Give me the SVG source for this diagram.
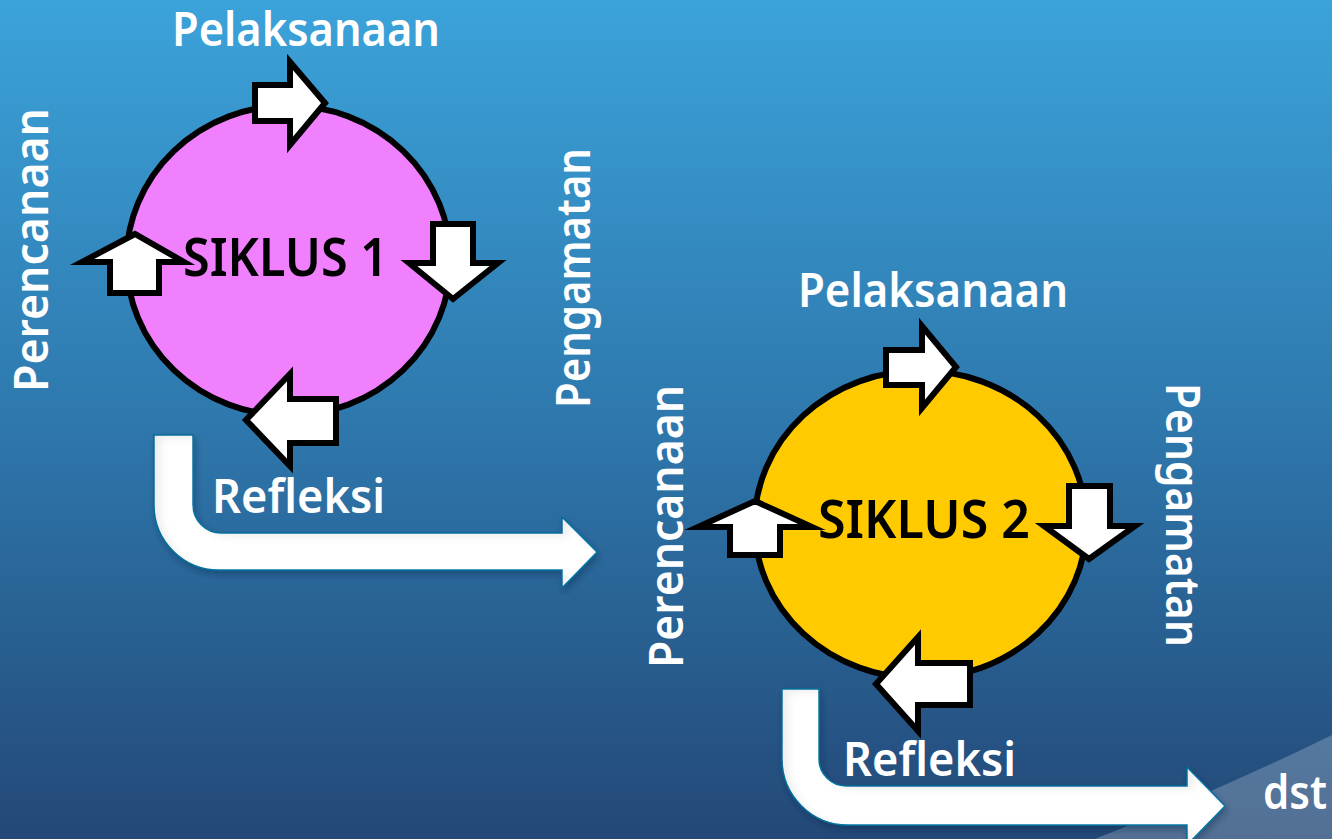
<svg xmlns="http://www.w3.org/2000/svg" width="1332" height="839" viewBox="0 0 1332 839">
  <defs>
    <linearGradient id="bg" x1="0" y1="0" x2="0" y2="1">
      <stop offset="0" stop-color="#3ba3da"/>
      <stop offset="0.5" stop-color="#2e78ad"/>
      <stop offset="1" stop-color="#234877"/>
    </linearGradient>
    <!-- soft inner shading plus drop shadow for the big bent arrows -->
    <filter id="bend" x="-10%" y="-10%" width="120%" height="130%">
      <feGaussianBlur in="SourceAlpha" stdDeviation="4" result="b"/>
      <feOffset in="b" dx="7" dy="4" result="o"/>
      <feComposite in="SourceAlpha" in2="o" operator="out" result="edge"/>
      <feFlood flood-color="#000" flood-opacity="0.16"/>
      <feComposite in2="edge" operator="in" result="shade"/>
      <feGaussianBlur in="SourceAlpha" stdDeviation="3" result="sb"/>
      <feOffset in="sb" dx="2" dy="4" result="so"/>
      <feFlood flood-color="#0a2440" flood-opacity="0.35"/>
      <feComposite in2="so" operator="in" result="drop"/>
      <feMerge>
        <feMergeNode in="drop"/>
        <feMergeNode in="SourceGraphic"/>
        <feMergeNode in="shade"/>
      </feMerge>
    </filter>
    <style>
      .label { font-family: "Noto Sans", "Open Sans", "DejaVu Sans", sans-serif; font-weight: 600; font-size: 46px; fill: #ffffff; }
      .title { font-family: "Noto Sans", "Open Sans", "DejaVu Sans", sans-serif; font-weight: 600; font-size: 52px; fill: #000000; }
      .ring { stroke: #000; stroke-width: 6; }
      .step { fill: #ffffff; stroke: #000; stroke-width: 6; stroke-linejoin: miter; stroke-miterlimit: 10; }
      .bent { fill: #ffffff; stroke: #0e78a6; stroke-width: 1.5; }
    </style>
  </defs>

  <!-- backdrop -->
  <rect x="0" y="0" width="1332" height="839" fill="url(#bg)"/>
  <path d="M1095,839 Q1220,790 1332,735 L1332,839 Z" fill="#ffffff" fill-opacity="0.22"/>

  <!-- cycle 1 -->
  <g id="siklus1">
    <ellipse class="ring" cx="288.5" cy="260.5" rx="162" ry="155" fill="#f080fd"/>
    <text class="title" x="183" y="276" textLength="205" lengthAdjust="spacingAndGlyphs">SIKLUS 1</text>
  </g>
  <g id="siklus1-steps">
    <polygon class="step" points="255,85 290,85 290,62 325,103 290,145 290,121 255,121"/>
    <polygon class="step" points="433,224 473,224 473,263 498,263 453,299 409,263 433,263"/>
    <polygon class="step" points="336,399 336,443 290,443 290,466 246,420 290,374 290,399"/>
    <polygon class="step" points="110,293 110,262 82,262 135,234 184,262 159,262 159,293"/>
  </g>
  <g id="siklus1-labels">
    <text class="label" x="172" y="46" textLength="268" lengthAdjust="spacingAndGlyphs">Pelaksanaan</text>
    <text class="label" transform="translate(48,392) rotate(-90)" x="0" y="0" textLength="284" lengthAdjust="spacingAndGlyphs">Perencanaan</text>
    <text class="label" transform="translate(590,408) rotate(-90)" x="0" y="0" textLength="260" lengthAdjust="spacingAndGlyphs">Pengamatan</text>
    <text class="label" x="212" y="513" textLength="173" lengthAdjust="spacingAndGlyphs">Refleksi</text>
  </g>

  <!-- cycle 2 -->
  <g id="siklus2">
    <ellipse class="ring" cx="920.5" cy="524.5" rx="166" ry="154" fill="#ffcb00"/>
    <text class="title" x="818" y="538" textLength="212" lengthAdjust="spacingAndGlyphs">SIKLUS 2</text>
  </g>
  <g id="siklus2-steps">
    <polygon class="step" points="886,350 922,350 922,326 956,367 922,408 922,385 886,385"/>
    <polygon class="step" points="1069,486 1110,486 1110,526 1135,526 1089,559 1044,526 1069,526"/>
    <polygon class="step" points="970,663 970,705 918,705 918,731 876,684 918,637 918,663"/>
    <polygon class="step" points="730,555 730,527 698,527 755,501 812,527 780,527 780,555"/>
  </g>
  <g id="siklus2-labels">
    <text class="label" x="798" y="307" textLength="270" lengthAdjust="spacingAndGlyphs">Pelaksanaan</text>
    <text class="label" transform="translate(683,668) rotate(-90)" x="0" y="0" textLength="283" lengthAdjust="spacingAndGlyphs">Perencanaan</text>
    <text class="label" transform="translate(1166,383) rotate(90)" x="0" y="0" textLength="264" lengthAdjust="spacingAndGlyphs">Pengamatan</text>
    <text class="label" x="843" y="776" textLength="173" lengthAdjust="spacingAndGlyphs">Refleksi</text>
  </g>

  <!-- bent arrows leading from one cycle to the next -->
  <g id="connectors">
    <path class="bent" filter="url(#bend)" d="M154,435 H193 V505 A28,28 0 0 0 221,533 H562 V517 L597,552 L562,588 V570 H219 A65,65 0 0 1 154,505 Z"/>
    <path class="bent" filter="url(#bend)" d="M782,689 H819 V759 A27,27 0 0 0 846,786 H1187 V767 L1225,806 L1187,845 V825 H848 A66,66 0 0 1 782,759 Z"/>
  </g>

  <g id="lanjut">
    <text class="label" x="1263" y="809" textLength="64" lengthAdjust="spacingAndGlyphs">dst</text>
  </g>
</svg>
